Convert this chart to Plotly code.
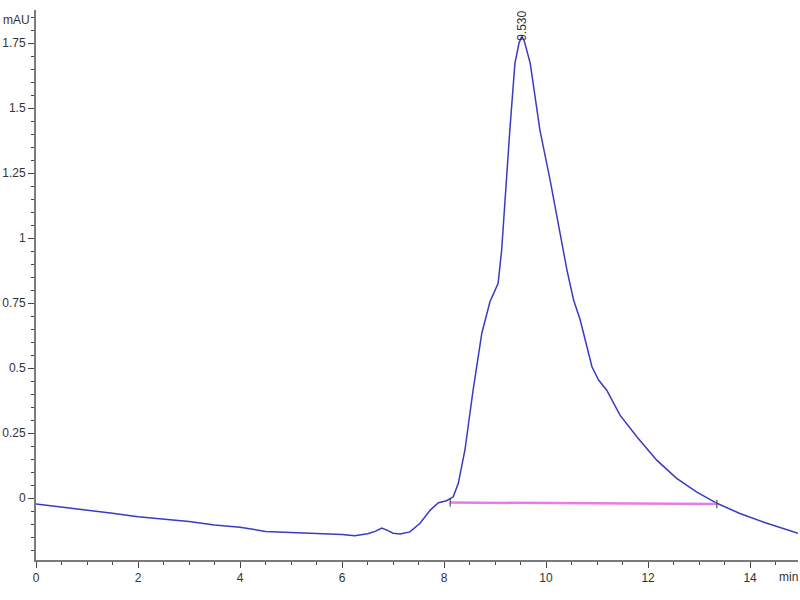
import plotly.graph_objects as go

# Chromatogram trace (time in min, absorbance in mAU)
time_min = [0, 0.5, 1.0, 1.25, 1.5, 2.0, 2.5, 3.0, 3.5, 4.0, 4.5, 5.0, 5.5, 6.0, 6.25,
            6.5, 6.65, 6.78, 6.9, 7.0, 7.14, 7.33, 7.53, 7.73, 7.89, 7.97, 8.05, 8.18,
            8.28, 8.41, 8.57, 8.74, 8.90, 8.98, 9.06, 9.13, 9.20, 9.29, 9.39, 9.47,
            9.52, 9.57, 9.69, 9.88, 10.08, 10.25, 10.41, 10.54, 10.67, 10.9, 11.03,
            11.19, 11.45, 11.78, 12.17, 12.56, 12.95, 13.35, 13.8, 14.3, 14.94]
signal_mau = [-0.023, -0.035, -0.045, -0.053, -0.058, -0.072, -0.080, -0.090, -0.103,
              -0.112, -0.128, -0.132, -0.136, -0.140, -0.145, -0.137, -0.128, -0.115,
              -0.125, -0.135, -0.138, -0.130, -0.097, -0.046, -0.018, -0.014, -0.010,
              0.005, 0.057, 0.185, 0.415, 0.633, 0.755, 0.790, 0.826, 0.954, 1.159,
              1.415, 1.672, 1.750, 1.774, 1.760, 1.672, 1.415, 1.223, 1.040, 0.877,
              0.762, 0.685, 0.505, 0.454, 0.415, 0.319, 0.236, 0.146, 0.076, 0.024,
              -0.020, -0.059, -0.095, -0.135]

# Integration baseline
baseline_t = [8.12, 13.35]
baseline_v = [-0.017, -0.023]

peak_time = 9.53
peak_value = 1.774
peak_label = "9.530"

x_ticks = [0, 2, 4, 6, 8, 10, 12, 14]
y_ticks = [0, 0.25, 0.5, 0.75, 1, 1.25, 1.5, 1.75]
y_ticktext = ["0", "0.25", "0.5", "0.75", "1", "1.25", "1.5", "1.75"]

font_family = "Liberation Sans, Arial, sans-serif"
text_color = "#333333"
axis_color = "#7a7a7a"

fig = go.Figure()
fig.add_trace(go.Scatter(x=time_min, y=signal_mau, mode="lines",
                         line=dict(color="#3a3ac4", width=1.5), showlegend=False))
fig.add_trace(go.Scatter(x=baseline_t, y=baseline_v, mode="lines",
                         line=dict(color="#e67ce6", width=2.5), showlegend=False))
fig.add_trace(go.Scatter(x=baseline_t, y=baseline_v, mode="markers",
                         marker=dict(symbol="line-ns", size=6,
                                     line=dict(color="#333333", width=1)),
                         showlegend=False))

fig.add_annotation(x=peak_time, y=peak_value, text=peak_label, textangle=-90,
                   showarrow=False, xanchor="center", yanchor="bottom", yshift=-6,
                   font=dict(family=font_family, size=12, color=text_color))
fig.add_annotation(x=-0.005, y=1.0, xref="paper", yref="paper", text="mAU",
                   showarrow=False, xanchor="right", yanchor="top", yshift=-1,
                   font=dict(family=font_family, size=12, color=text_color))
fig.add_annotation(x=1.0, y=0, xref="paper", yref="paper", text="min",
                   showarrow=False, xanchor="right", yanchor="top", xshift=2, yshift=-8,
                   font=dict(family=font_family, size=12, color=text_color))

fig.update_layout(
    width=800, height=600,
    margin=dict(l=36, r=2, t=10, b=40, autoexpand=False),
    paper_bgcolor="white", plot_bgcolor="white",
    font=dict(family=font_family, size=12, color=text_color),
    xaxis=dict(range=[0, 14.94], tickvals=x_ticks, showgrid=False, zeroline=False,
               automargin=False,
               showline=True, linecolor=axis_color, linewidth=2,
               ticks="outside", ticklen=6, tickcolor="#444444", tickwidth=1,
               minor=dict(dtick=0.5, ticks="outside", ticklen=3, tickcolor="#444444",
                          showgrid=False),
               tickfont=dict(size=12, color=text_color)),
    yaxis=dict(range=[-0.238, 1.877], tickvals=y_ticks, ticktext=y_ticktext,
               showgrid=False, zeroline=False, automargin=False,
               showline=True, linecolor=axis_color, linewidth=2,
               ticks="outside", ticklen=6, tickcolor="#444444", tickwidth=1,
               minor=dict(dtick=0.05, ticks="outside", ticklen=3, tickcolor="#444444",
                          showgrid=False),
               tickfont=dict(size=12, color=text_color)),
)

fig.write_html("out.html",
               config={"displayModeBar": False},
               post_script="document.body.style.margin='0';"
                           "document.body.style.overflow='hidden';")
